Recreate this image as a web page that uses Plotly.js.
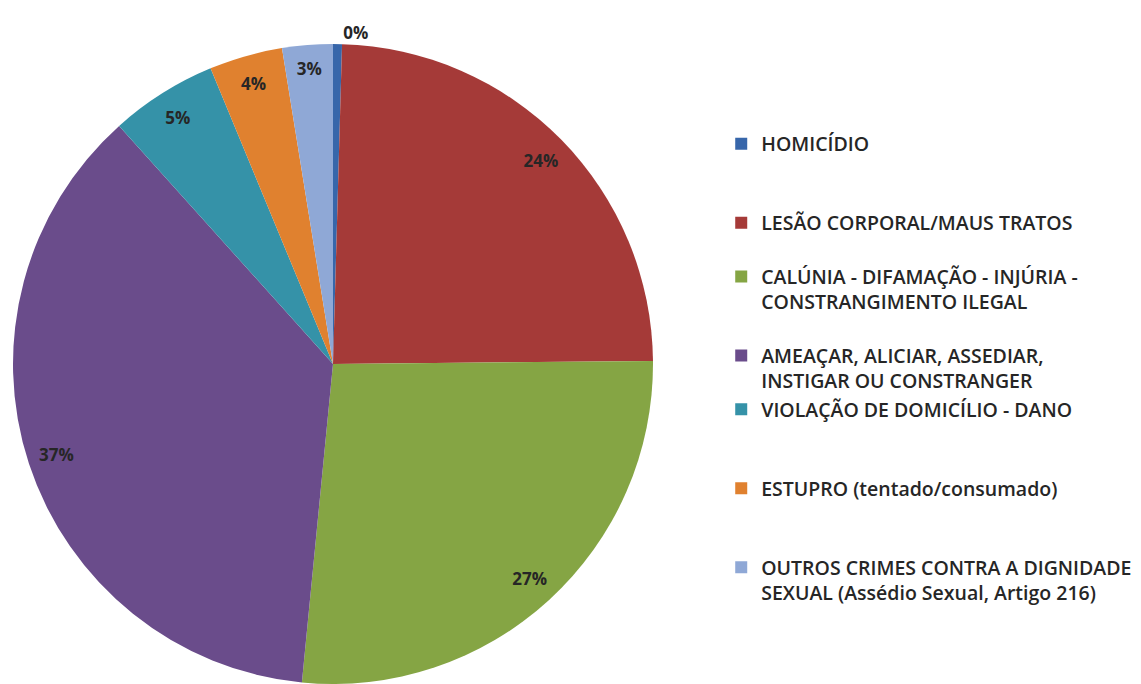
<!DOCTYPE html>
<html><head><meta charset="utf-8">
<script src="https://cdn.plot.ly/plotly-3.0.1.min.js"></script>
<style>html,body{margin:0;padding:0;background:#fff}#chart{width:1141px;height:684px}</style>
</head><body><div id="chart"></div>
<script>
const categories = [
  "HOMICÍDIO",
  "LESÃO CORPORAL/MAUS TRATOS",
  "CALÚNIA - DIFAMAÇÃO - INJÚRIA -<br>CONSTRANGIMENTO ILEGAL",
  "AMEAÇAR, ALICIAR, ASSEDIAR,<br>INSTIGAR OU CONSTRANGER",
  "VIOLAÇÃO DE DOMICÍLIO - DANO",
  "ESTUPRO (tentado/consumado)",
  "OUTROS CRIMES CONTRA A DIGNIDADE<br>SEXUAL (Assédio Sexual, Artigo 216)"
];
const shares = [0.45, 24.4, 26.7, 36.8, 5.4, 3.7, 2.55];
const colors = ["#3766AA", "#A53A38", "#85A544", "#6A4C8B", "#3592A8", "#E0812F", "#8FA8D6"];
const labelPositions = ["outside", "inside", "inside", "inside", "inside", "inside", "inside"];

// blank lines padding legend entries to emulate the even spacing of the original legend
const legendPad = ["<br>&nbsp;<br>&nbsp;", "<br>&nbsp;", "<br>&nbsp;", "", "<br>&nbsp;<br>&nbsp;", "<br>&nbsp;<br>&nbsp;", ""];
const legendLabels = categories.map((c, i) => c + legendPad[i]);

const dom = {x: [13/1141, 653/1141], y: [0, 640/684]};

const pie = {
  type: "pie",
  labels: legendLabels,
  values: shares,
  sort: false,
  direction: "clockwise",
  rotation: 0,
  marker: {colors: colors, line: {width: 0}},
  textinfo: "none",
  hoverinfo: "label+percent",
  domain: dom,
  showlegend: true
};

const ring = {
  type: "pie",
  labels: categories.map((c, i) => "ring-" + i),
  values: shares,
  sort: false,
  direction: "clockwise",
  rotation: 0,
  hole: 0.82,
  marker: {colors: colors.map(() => "rgba(0,0,0,0)"), line: {width: 0}},
  texttemplate: "%{percent:.0%}",
  textposition: labelPositions,
  insidetextorientation: "horizontal",
  textfont: {family: "Open Sans, sans-serif", size: 17, color: "#262626", weight: 700},
  outsidetextfont: {family: "Open Sans, sans-serif", size: 16, color: "#262626", weight: 700},
  hoverinfo: "skip",
  domain: dom,
  showlegend: false
};

const layout = {
  width: 1141, height: 684,
  margin: {l: 0, r: 0, t: 0, b: 0, autoexpand: false},
  paper_bgcolor: "#fff",
  showlegend: true,
  uniformtext: {mode: "show", minsize: 17},
  legend: {
    x: 0.6321, y: 0.818, xanchor: "left", yanchor: "top",
    valign: "top",
    font: {family: "Open Sans, sans-serif", size: 19.5, color: "#262626", weight: 600},
    itemwidth: 30
  }
};

Plotly.newPlot("chart", [pie, ring], layout, {displayModeBar: false});
</script></body></html>
